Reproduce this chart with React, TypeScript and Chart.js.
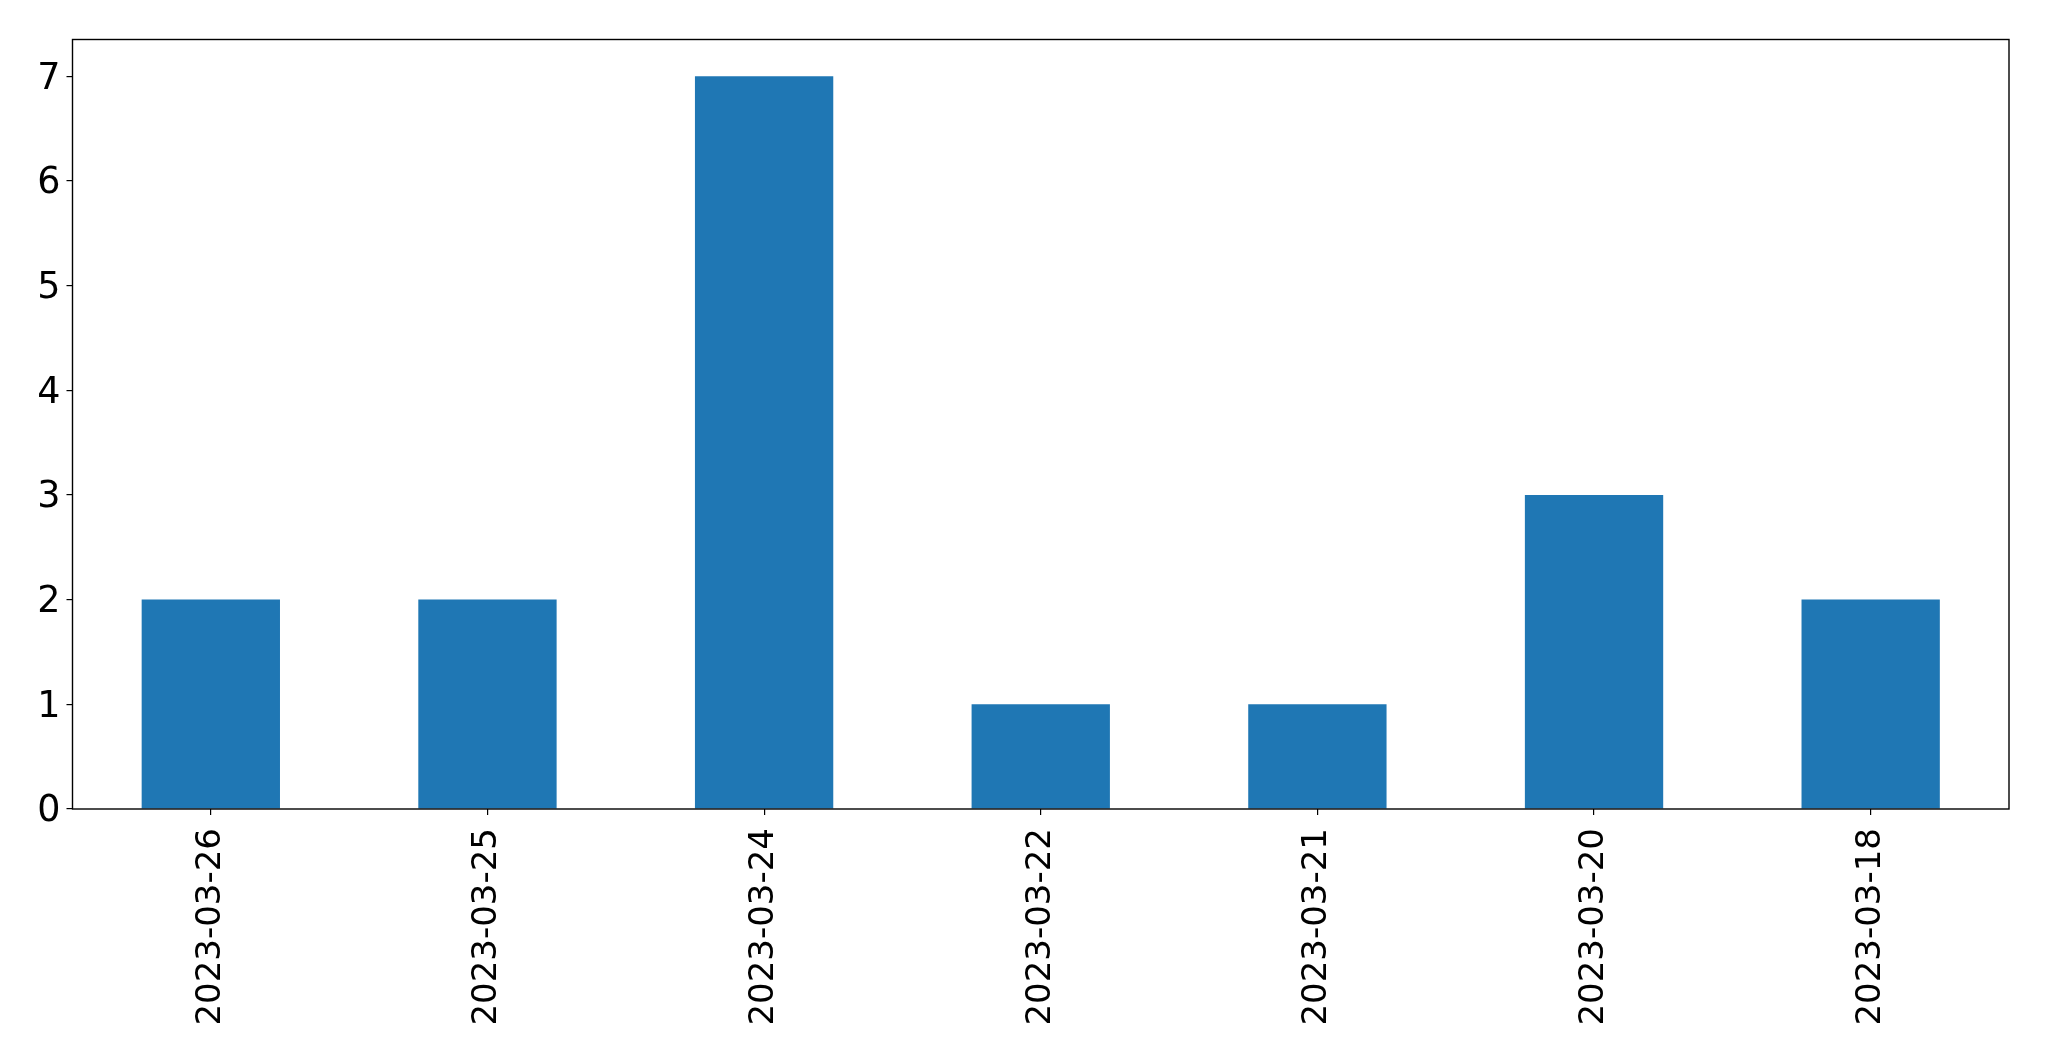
import React, { useEffect, useRef } from "react";
import { Chart, registerables } from "chart.js";

Chart.register(...registerables);

const categories = ["2023-03-26", "2023-03-25", "2023-03-24", "2023-03-22", "2023-03-21", "2023-03-20", "2023-03-18"];
const counts = [2, 2, 7, 1, 1, 3, 2];
const yTicks = [0, 1, 2, 3, 4, 5, 6, 7];

const W = 2049;
const H = 1061;

const frame = {
  id: "frame",
  afterDraw(chart: any) {
    const { ctx, chartArea } = chart;
    ctx.save();
    ctx.strokeStyle = "#000";
    ctx.lineWidth = 1.4;
    ctx.strokeRect(chartArea.left, chartArea.top, chartArea.right - chartArea.left, chartArea.bottom - chartArea.top);
    ctx.restore();
  },
};

export default function App() {
  const ref = useRef<HTMLCanvasElement | null>(null);
  useEffect(() => {
    document.body.style.margin = "0";
    const chart = new Chart(ref.current as HTMLCanvasElement, {
      type: "bar",
      data: {
        labels: categories,
        datasets: [
          {
            data: counts,
            backgroundColor: "#1f77b4",
            barPercentage: 0.5,
            categoryPercentage: 1,
          },
        ],
      },
      options: {
        animation: false,
        responsive: false,
        maintainAspectRatio: false,
        layout: { padding: { top: 39.5, right: 40, left: 0, bottom: 0 } },
        plugins: { legend: { display: false }, tooltip: { enabled: false } },
        scales: {
          x: {
            type: "category",
            offset: true,
            grid: { display: true, offset: false, drawOnChartArea: false, drawTicks: true, tickLength: 6, color: "#000", lineWidth: 1.2 },
            border: { display: false },
            ticks: {
              color: "#000",
              font: { family: "DejaVu Sans", size: 34 },
              minRotation: 90,
              maxRotation: 90,
              autoSkip: false,
              padding: 13,
            },
            afterFit(scale: any) {
              scale.height = H - 809;
            },
          },
          y: {
            min: 0,
            max: 7.35,
            grid: { display: true, drawOnChartArea: false, drawTicks: true, tickLength: 6, color: "#000", lineWidth: 1.2 },
            border: { display: false },
            ticks: {
              color: "#000",
              font: { family: "DejaVu Sans", size: 36.5 },
              padding: 6,
              labelOffset: 3,
            },
            afterBuildTicks(scale: any) {
              scale.ticks = yTicks.map((v) => ({ value: v }));
            },
            afterFit(scale: any) {
              scale.width = 72.5;
            },
          },
        },
      },
      plugins: [frame],
    });
    return () => chart.destroy();
  }, []);
  return (
    <div style={{ position: "relative", width: W, height: H }}>
      <canvas ref={ref} width={W} height={H} style={{ width: W, height: H, display: "block" }} />
    </div>
  );
}
